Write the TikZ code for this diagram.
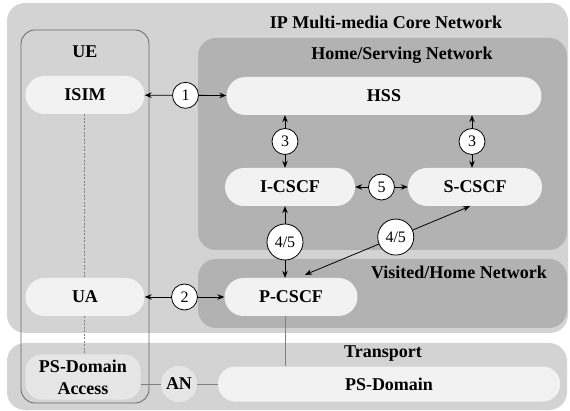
\documentclass[tikz,border=0pt]{standalone}
\usepackage{fontspec}
\setmainfont{Liberation Serif}
\usetikzlibrary{positioning,arrows.meta}
\definecolor{coregray}{HTML}{D3D3D3}
\definecolor{homegray}{HTML}{B2B2B2}
\definecolor{nodegray}{HTML}{F2F2F2}
\definecolor{accgray}{HTML}{E6E6E6}
\begin{document}
\begin{tikzpicture}[x=1pt,y=-1pt,>={Stealth[length=7pt,width=5.5pt]},
  area/.style={rounded corners=18pt},
  title/.style={font=\fontsize{18}{20}\selectfont\bfseries},
  func/.style={rounded corners=19pt,fill=nodegray,minimum height=38pt,
    inner sep=0pt,font=\fontsize{18}{20}\selectfont\bfseries},
  num/.style={circle,draw,fill=white,minimum size=26pt,inner sep=1pt,
    line width=0.8pt,font=\fontsize{16}{17}\selectfont},
  link/.style={<->,line width=0.8pt}]

  \useasboundingbox (0,0) rectangle (570,411);

  % areas
  \fill[coregray,area] (7,3) rectangle (568,333);
  \fill[homegray,area] (198,38) rectangle (567,250);
  \fill[homegray,area] (198,259) rectangle (567,328);
  \fill[coregray,area] (7,343) rectangle (567,410);
  \draw[gray!80!black,line width=0.8pt,rounded corners=14pt] (21,30) rectangle (149,403);

  \node[title] (core) at (386,22) {IP Multi-media Core Network};
  \node[title] (home) at (402,55) {Home/Serving Network};
  \node[title] (visited) at (459,272) {Visited/Home Network};
  \node[title] (transport) at (383,354) {Transport};
  \node[title] (ue) at (85,52) {UE};

  % functions
  \node[func,minimum width=119pt] (isim) at (85,95) {ISIM};
  \node[func,minimum width=315pt] (hss) at (384,96) {HSS};
  \node[func,minimum width=130pt] (icscf) at (290,187) {I-CSCF};
  \node[func,minimum width=134pt] (scscf) at (475,187) {S-CSCF};
  \node[func,minimum width=119pt] (ua) at (85,297) {UA};
  \node[func,minimum width=133pt] (pcscf) at (291,297) {P-CSCF};
  \node[func,minimum width=115pt,minimum height=45pt,fill=accgray,rounded corners=16pt,
    align=center,font=\fontsize{18}{22}\selectfont\bfseries] (psa) at (83,377) {PS-Domain\\Access};
  \node[func,minimum width=342pt,minimum height=35pt,rounded corners=17pt] (psd) at (389,384) {PS-Domain};
  \node[circle,fill=accgray,minimum size=36pt,inner sep=0pt,
    font=\fontsize{18}{20}\selectfont\bfseries] (an) at (179,384) {AN};

  \coordinate (v3) at (285,0);
  \coordinate (s3) at (472,0);

  % links
  \draw[gray,line width=0.8pt,dash pattern=on 2pt off 1.5pt]
    (isim.south -| 84,0) -- (ua.north -| 84,0)
    (ua.south -| 84,0) -- (psa.north -| 84,0);
  \draw[gray,line width=0.8pt] (pcscf.south -| v3) -- (psd.north -| v3);
  \draw[gray,line width=0.8pt] (psa.east |- an) -- (an) -- (psd.west |- an);

  \path[link]
    (isim) edge node[num] {1} (hss)
    (ua) edge node[num] {2} (pcscf)
    (icscf) edge node[num] {5} (scscf)
    (hss.south -| v3) edge node[num] {3} (icscf.north -| v3)
    (hss.south -| s3) edge node[num] {3} (scscf.north -| s3)
    (icscf.south -| v3) edge node[num,minimum size=36pt] {4/5} (pcscf.north -| v3)
    ([xshift=-5pt]scscf.south) edge node[num,minimum size=36pt,pos=0.45] {4/5}
      ([xshift=14pt,yshift=3pt]pcscf.north);
\end{tikzpicture}
\end{document}
